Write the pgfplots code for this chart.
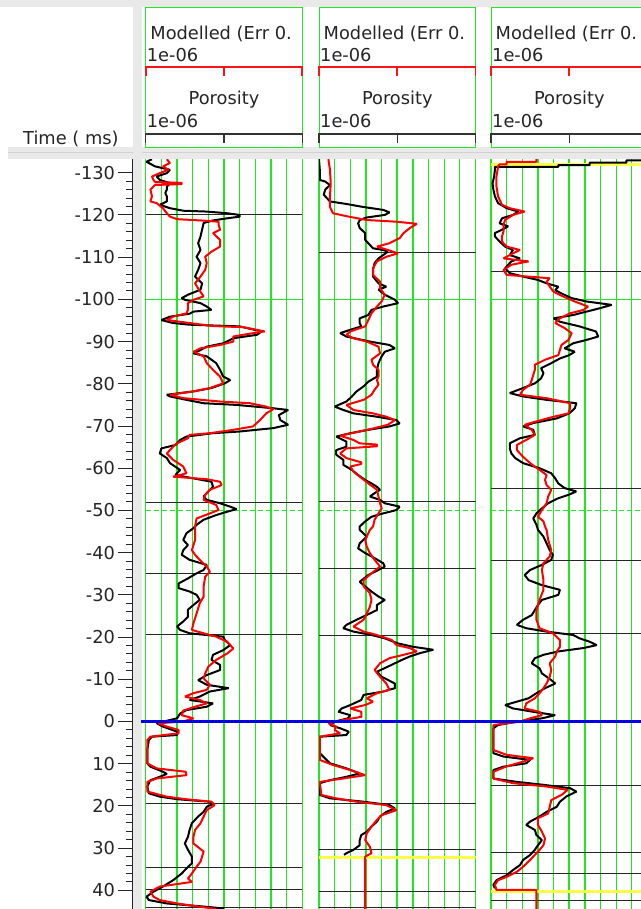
\documentclass[border=0pt]{standalone}
\usepackage{pgfplots}
\pgfplotsset{compat=1.18}
\usepackage{fontspec}
\setmainfont{DejaVu Sans}
\definecolor{gridgreen}{RGB}{30,232,30}
\definecolor{logred}{RGB}{255,0,0}
\definecolor{hdrred}{RGB}{255,20,20}
\definecolor{hdrgray}{RGB}{233,233,233}
\definecolor{txtgray}{RGB}{38,38,38}
\definecolor{ylw}{RGB}{255,255,70}
\definecolor{bluel}{RGB}{0,0,225}
\newcommand{\hfont}{\fontsize{17.8bp}{20bp}\selectfont}

\pgfplotsset{
  track/.style={
    anchor=north west, scale only axis, width=156.6bp, height=750bp,
    xmin=0, xmax=10, ymin=-133.25, ymax=44.42, y dir=reverse,
    axis line style={draw=none}, tick style={draw=none}, major tick length=0pt,
    xtick={0,1,2,3,4,6,7,8,9,10}, ytick={-100},
    xticklabels={}, yticklabels={},
    extra x ticks={5}, extra x tick labels={},
    extra x tick style={grid style={gridgreen, line width=2bp}},
    extra y ticks={-50}, extra y tick labels={},
    extra y tick style={grid style={gridgreen, line width=1bp, dash pattern=on 5bp off 3bp}},
    xmajorgrids, ymajorgrids,
    grid style={gridgreen, line width=1.1bp},
  },
  blk/.style={black, line width=2bp, line join=bevel},
  rd/.style={logred, line width=2bp, line join=bevel},
  hzl/.style={black!85, line width=0.9bp},
  yl/.style={ylw, line width=3.2bp},
}
\newcommand{\hz}[1]{\addplot[hzl] coordinates {(0,#1) (10,#1)};}
\newcommand{\trackhead}[1]{%
  \draw[gridgreen, line width=1bp] (#1,7.7) rectangle ({#1+156.6},147);
  \node[anchor=base west, inner sep=0, text=txtgray, font=\hfont] at ({#1+4.5},39.3) {Modelled (Err 0.};
  \node[anchor=base west, inner sep=0, text=txtgray, font=\hfont] at ({#1+1},61) {1e-06};
  \fill[hdrred] ({#1-0.8},66) rectangle ({#1+157.4},68.2);
  \fill[hdrred] ({#1-0.8},66) rectangle ({#1+1},76);
  \fill[hdrred] ({#1+77.4},66) rectangle ({#1+79.2},76);
  \fill[hdrred] ({#1+155.6},66) rectangle ({#1+157.4},76);
  \node[anchor=base, inner sep=0, text=txtgray, font=\hfont] at ({#1+78.3},104.5) {Porosity};
  \node[anchor=base west, inner sep=0, text=txtgray, font=\hfont] at ({#1+1},127.7) {1e-06};
  \draw[black!80, line width=1.2bp] (#1,143) -- (#1,134) -- ({#1+156.6},134) -- ({#1+156.6},143);
  \draw[black!80, line width=1.2bp] ({#1+78.3},134) -- ({#1+78.3},143);
}

\begin{document}
\begin{tikzpicture}
\fill[white, use as bounding box] (0,0) rectangle (641bp,-909bp);
\clip (0,0) rectangle (641bp,-909bp);
\begin{scope}[x=1bp, y=-1bp]
  \fill[hdrgray] (0,0) rectangle (641,7);
  \fill[hdrgray] (8,147) rectangle (641,159);
  \draw[black!18, line width=0.8bp] (8,152) -- (641,152);
  \fill[hdrgray] (133,7) rectangle (142,909);
  \trackhead{145.7}
  \trackhead{319}
  \trackhead{491}
  \node[anchor=base west, inner sep=0, text=txtgray, font=\hfont] at (23,144) {Time ( ms)};
\end{scope}

% time scale
\begin{axis}[at={(132bp,-159bp)}, anchor=north west, scale only axis, width=10bp, height=750bp,
  xmin=0, xmax=1, ymin=-133.25, ymax=44.42, y dir=reverse,
  axis x line=none, axis y line*=left, xtick=\empty,
  y axis line style={draw=txtgray, line width=1bp},
  ytick={-130,-120,...,40}, minor y tick num=4,
  tick align=outside, major tick length=13.5bp, minor tick length=6bp,
  every tick/.style={txtgray, line width=1bp},
  yticklabel style={font=\hfont, text=txtgray},
  /pgf/number format/assume math mode=true,
  /pgf/number format/1000 sep={}]
\addplot[draw=none] coordinates {(0,0)};
\end{axis}

% track 1
\begin{axis}[track, at={(145.7bp,-159bp)}]
\hz{-120}\hz{-52}\hz{-35}\hz{-20.6}\hz{19.3}\hz{34.5}\hz{39.7}\hz{44.0}
\addplot[blk] coordinates {
(0.4,-133.2) (0.05,-132.6) (0.2,-132.3) (0.6,-131.5) (1.55,-130.7) (1.35,-129.9) (0.7,-129.1) (0.9,-128.3) (1.55,-127.5) (1.35,-126.7) (1.35,-126.0) (1.25,-125.2) (1.35,-124.4) (1.35,-123.2) (0.9,-122.4) (1.55,-121.6) (2.4,-121.0) (3.9,-120.8) (5.2,-120.4) (6.0,-120.0) (6.0,-119.6) (5.2,-119.2) (4.3,-118.7) (3.7,-118.1) (3.6,-116.5) (3.5,-114.9) (3.35,-113.3) (3.5,-111.7) (3.25,-110.1) (3.5,-108.6) (3.35,-107.0) (3.15,-105.4) (3.6,-103.8) (3.5,-102.3) (2.7,-101.1) (2.3,-100.3) (2.5,-99.9) (3.5,-99.1) (3.9,-98.3) (4.2,-97.5) (3.05,-97.1) (2.8,-96.6) (1.55,-95.9) (1.0,-95.1) (1.75,-94.4) (2.8,-94.0) (6.0,-93.6) (7.4,-92.4) (7.1,-91.6) (5.6,-90.8) (4.95,-89.6) (3.9,-88.8) (3.5,-88.0) (3.05,-87.2) (3.9,-86.5) (4.5,-84.9) (4.75,-83.3) (4.95,-81.7) (5.4,-80.9) (5.05,-80.1) (4.2,-79.0) (3.05,-78.2) (1.35,-77.4) (1.55,-77.0) (2.6,-76.2) (3.7,-75.4) (5.8,-75.0) (8.15,-74.2) (9.1,-73.8) (8.5,-72.6) (8.6,-71.4) (9.1,-70.3) (8.15,-69.5) (6.0,-68.7) (4.3,-68.3) (2.6,-67.5) (2.2,-66.7)
(1.9,-65.5) (1.0,-64.7) (0.9,-63.5) (1.35,-62.4) (1.55,-61.2) (2.2,-59.6) (1.9,-58.4) (3.05,-57.6) (4.2,-56.8) (4.3,-55.6) (4.0,-54.5) (3.7,-53.3) (3.9,-52.5) (4.75,-51.7) (5.4,-50.9) (5.8,-50.3) (5.2,-49.7) (4.5,-48.9) (3.7,-47.8) (3.25,-46.6) (3.05,-45.8) (2.6,-44.6) (2.4,-43.0) (2.7,-41.8) (2.4,-40.6) (2.3,-39.5) (2.8,-38.3) (3.9,-37.1) (3.7,-35.9) (3.25,-35.1) (2.7,-33.9) (2.1,-32.7) (2.1,-31.6) (2.8,-30.8) (3.25,-30.0) (3.45,-28.8) (3.05,-27.6) (2.7,-26.5) (2.7,-24.8) (2.4,-23.7) (2.0,-22.5) (2.2,-21.7) (2.8,-20.9) (4.95,-20.1) (5.05,-19.3) (5.4,-18.1) (4.95,-16.9) (4.3,-15.8) (4.2,-14.6) (4.75,-13.4) (4.75,-12.2) (3.9,-11.0) (3.35,-9.8) (3.9,-8.7) (5.3,-7.9) (4.1,-7.1) (3.45,-5.9) (2.8,-5.1) (4.3,-4.3) (3.9,-3.5) (2.6,-2.7) (2.2,-1.9) (2.0,-0.75)
(0.7,0.4) (1.1,1.2) (2.0,2.4) (2.0,3.2) (0.4,3.6) (0.2,4.4) (0.1,6.75) (0.1,9.9) (0.3,10.7) (1.1,11.9) (1.35,12.4) (0.9,13.1) (0.3,13.9) (0.1,15.4) (0.2,17.0) (0.9,17.8) (2.0,18.4) (4.1,19.0) (4.3,19.5) (3.9,20.2) (3.7,21.4) (3.35,22.5) (2.95,24.1) (2.8,25.7) (2.7,27.3) (2.5,28.9) (2.7,30.4) (2.95,32.0) (2.95,33.6) (2.6,34.8) (2.3,36.0) (1.75,37.6) (1.1,39.1) (0.5,40.3) (0.05,41.5) (0.2,42.3) (1.35,43.1) (3.9,43.9) (5.0,44.3)
};
\addplot[rd] coordinates {
(1.35,-133.2) (1.55,-132.3) (1.1,-131.5) (1.45,-130.7) (0.9,-129.9) (0.4,-129.1) (0.5,-128.3) (0.6,-127.8) (2.3,-127.6) (2.3,-127.3) (0.6,-127.1) (0.3,-126.0) (0.4,-124.4) (0.3,-123.2) (0.7,-122.8) (1.1,-121.6) (1.35,-120.4) (1.55,-119.6) (2.0,-119.0) (3.5,-118.7) (4.65,-118.4) (4.65,-117.7) (4.75,-116.5) (4.3,-115.7) (4.75,-114.1) (4.75,-112.5) (4.2,-111.3) (3.8,-110.1) (3.9,-108.6) (3.8,-107.0) (3.5,-105.4) (3.15,-103.8) (3.4,-102.3) (3.7,-100.7) (3.05,-99.9) (2.7,-99.1) (2.7,-97.5) (2.6,-96.7) (1.75,-95.9) (1.35,-95.1) (2.8,-94.4) (4.2,-93.7) (6.25,-93.4) (7.6,-92.4) (6.85,-92.0) (5.6,-91.2) (5.6,-90.0) (4.75,-89.2) (3.5,-88.4) (3.05,-87.6) (3.7,-86.5) (3.9,-84.9) (4.3,-83.3) (4.75,-81.7) (4.95,-80.1) (4.1,-79.0) (3.05,-78.2) (1.55,-77.4) (2.4,-76.6) (4.75,-75.8) (6.65,-75.4) (7.7,-74.6) (8.15,-74.0) (7.7,-73.0) (7.3,-71.4) (6.85,-69.9) (5.6,-69.1) (4.1,-68.3) (2.8,-67.9) (2.7,-67.1) (2.0,-65.9)
(1.75,-65.1) (1.35,-63.5) (1.75,-62.0) (2.4,-60.4) (2.6,-58.8) (1.75,-58.0) (3.9,-57.4) (4.75,-56.8) (4.85,-56.0) (4.1,-54.9) (3.8,-53.7) (3.7,-52.5) (4.5,-51.3) (4.65,-50.1) (4.1,-49.3) (3.25,-48.1) (3.15,-46.2) (3.15,-43.0) (2.95,-40.6) (3.15,-39.5) (3.45,-38.3) (3.9,-36.7) (4.1,-35.5) (3.8,-34.3) (3.7,-32.0) (3.7,-29.6) (3.45,-28.0) (3.25,-25.6) (3.05,-23.3) (2.95,-21.7) (3.5,-21.1) (4.5,-20.1) (5.2,-18.9) (5.6,-17.3) (5.2,-16.1) (4.5,-14.6) (4.0,-13.0) (3.8,-11.4) (3.7,-10.2) (4.1,-8.7) (3.9,-7.5) (3.05,-6.7) (2.5,-5.9) (3.45,-5.1) (3.9,-4.3) (3.15,-3.5) (2.4,-2.6) (2.3,-1.5) (3.05,-0.75) (2.4,0.0)
(0.8,0.43) (1.35,1.2) (2.1,2.0) (2.1,2.8) (0.3,3.6) (0.1,4.4) (0.1,9.9) (0.7,11.1) (2.55,11.9) (2.6,12.7) (0.7,13.5) (0.1,14.3) (0.1,16.6) (1.35,17.8) (2.55,18.4) (4.2,19.0) (4.4,19.8) (3.9,21.0) (3.7,22.5) (3.5,24.1) (3.15,25.7) (3.05,27.3) (3.05,28.9) (3.7,30.8) (3.6,32.0) (3.5,33.2) (3.25,34.4) (2.95,36.0) (2.7,37.2) (2.95,38.0) (0.9,39.1) (0.3,40.3) (0.5,41.5) (0.9,42.3) (2.0,43.1) (3.5,43.9) (4.5,44.4)
};
\end{axis}

% track 2
\begin{axis}[track, at={(319bp,-159bp)}]
\hz{-111}\hz{-52.2}\hz{-36.3}\hz{-20.5}\hz{19.3}\hz{30.2}\hz{40.3}\hz{44.0}
\addplot[yl] coordinates {(0,32.2) (10,32.2)};
\addplot[blk] coordinates {
(0.0,-133.2) (0.05,-130.7) (0.05,-128.3) (0.4,-127.9) (0.7,-127.1) (0.4,-126.0) (0.3,-124.8) (0.5,-124.0) (0.7,-123.2) (1.75,-122.6) (2.8,-121.9) (4.1,-121.2) (4.5,-120.6) (4.2,-120.0) (3.05,-119.4) (2.6,-118.8) (2.5,-118.0) (2.6,-116.9) (2.95,-115.7) (2.95,-114.1) (3.25,-112.9) (3.45,-112.1) (4.1,-111.7) (4.4,-111.3) (4.1,-110.5) (3.8,-109.7) (3.55,-108.6) (3.45,-107.0) (3.45,-105.4) (3.8,-103.8) (4.3,-103.0) (3.8,-102.3) (4.2,-101.1) (4.85,-99.9) (5.05,-99.1) (4.1,-98.3) (3.35,-97.5) (3.15,-96.3) (2.6,-95.5) (2.6,-94.4) (2.7,-93.6) (2.0,-92.8) (1.35,-92.0) (1.75,-91.2) (3.25,-90.0) (4.5,-89.2) (4.85,-88.4) (4.2,-87.6) (4.0,-86.5) (3.8,-84.9) (3.7,-83.3) (3.7,-81.7) (3.15,-80.5) (2.85,-79.4) (2.4,-78.2) (2.1,-77.0) (1.75,-75.8) (1.0,-74.6) (1.55,-73.8) (2.2,-73.0) (3.7,-72.2) (4.95,-71.4) (5.15,-70.6) (4.5,-69.9) (3.15,-69.1) (2.0,-68.3) (1.1,-67.5) (1.75,-66.3) (1.75,-65.1) (1.1,-64.3) (1.1,-63.2) (1.55,-62.0) (1.55,-60.8) (2.1,-59.6) (2.5,-58.4) (2.95,-57.2) (3.35,-56.4) (3.7,-55.6) (3.9,-54.9) (3.55,-54.1) (3.25,-53.3) (3.9,-52.5) (4.2,-51.7) (5.15,-50.9) (4.95,-50.1) (4.1,-49.3) (3.35,-48.5) (2.95,-47.4) (2.6,-46.2)
(2.6,-45.4) (3.05,-43.8) (2.6,-42.2) (2.5,-41.0) (2.95,-39.9) (3.55,-38.7) (4.1,-37.5) (4.2,-36.7) (3.8,-35.9) (3.15,-34.7) (2.6,-33.1) (2.95,-32.0) (3.35,-30.8) (3.8,-29.6) (4.2,-28.8) (3.7,-27.6) (3.7,-26.4) (3.25,-25.6) (2.4,-24.1) (1.75,-22.9) (1.55,-22.1) (2.2,-21.3) (3.35,-20.5) (4.2,-19.7) (5.05,-18.5) (6.0,-17.7) (7.3,-17.0) (6.45,-16.2) (5.8,-15.4) (5.3,-14.6) (4.4,-13.0) (3.7,-11.8) (4.0,-10.6) (4.85,-9.0) (4.85,-7.9) (4.1,-7.1) (2.85,-6.3) (2.7,-5.1) (2.0,-3.9) (1.45,-3.1) (1.25,-2.3) (2.0,-1.5) (1.85,-0.75) (1.0,0.04) (0.7,0.83) (1.35,1.6) (1.9,2.4) (1.75,3.2) (0.05,3.6) (0.05,7.5) (0.7,9.9) (1.75,11.1) (2.6,12.3) (1.75,13.1) (0.7,13.9) (0.05,14.6) (0.05,17.4) (0.7,18.2) (2.85,19.0) (4.5,19.8) (4.85,20.6) (4.3,21.4) (3.9,22.5) (3.7,23.7) (3.35,24.9) (3.05,26.1) (2.7,26.9) (2.6,28.1) (2.6,29.3) (2.2,30.4) (1.75,31.2) (1.6,31.6)
};
\addplot[rd] coordinates {
(0.6,-133.2) (0.7,-130.7) (0.75,-127.5) (0.7,-124.4) (0.7,-121.9) (0.9,-120.4) (1.9,-119.6) (3.05,-118.8) (4.95,-118.4) (6.25,-117.9) (5.8,-116.9) (5.4,-115.7) (5.15,-114.5) (4.5,-113.3) (3.7,-112.5) (4.4,-111.7) (5.05,-110.9) (4.3,-110.1) (3.7,-109.0) (3.45,-107.4) (3.45,-105.8) (3.9,-104.2) (3.9,-102.6) (4.2,-101.1) (4.0,-99.5) (3.7,-98.3) (3.35,-96.7) (3.15,-95.1) (2.95,-93.6) (2.0,-92.4) (1.75,-91.6) (2.2,-90.8) (3.05,-90.0) (3.8,-88.8) (3.9,-87.2) (3.35,-85.7) (3.45,-84.5) (3.8,-83.3) (3.8,-81.7) (3.7,-80.9) (3.8,-79.8) (3.55,-78.6) (3.35,-77.4) (2.85,-76.2) (1.75,-75.0) (2.2,-73.8) (3.45,-73.0) (4.3,-72.2) (4.85,-71.4) (4.4,-70.3) (3.55,-69.5) (2.6,-68.7) (1.35,-67.7) (2.2,-66.7) (2.6,-65.9) (3.7,-65.6) (3.7,-65.2) (1.75,-64.7) (1.35,-63.5) (1.75,-62.4) (2.7,-61.4) (2.7,-61.0) (2.0,-60.4) (2.2,-59.2) (2.6,-58.0) (3.15,-56.4) (3.7,-54.9) (3.8,-53.3) (3.9,-51.7) (4.0,-50.5) (3.8,-49.3) (3.55,-47.8) (3.45,-46.2)
(3.25,-45.4) (2.95,-43.0) (3.05,-41.4) (3.25,-39.9) (3.55,-38.3) (3.9,-36.7) (3.35,-35.1) (2.85,-33.5) (2.85,-32.0) (3.25,-30.4) (3.35,-28.8) (3.25,-27.2) (3.05,-25.6) (2.85,-24.1) (2.2,-22.5) (2.85,-21.3) (3.7,-20.5) (4.65,-19.3) (4.95,-18.1) (5.8,-17.4) (6.25,-16.6) (5.4,-15.8) (4.5,-15.0) (3.9,-13.8) (3.55,-12.2) (3.9,-10.6) (4.3,-9.0) (4.5,-7.5) (3.7,-6.7) (3.05,-5.5) (3.45,-4.7) (2.95,-3.9) (2.0,-3.1) (2.7,-2.3) (2.7,-1.1) (1.55,-0.36) (0.6,0.43) (1.1,1.2) (1.0,2.0) (1.35,2.8) (0.05,3.6) (0.05,9.1) (0.9,10.3) (2.0,11.5) (2.95,12.7) (1.55,13.5) (0.05,14.3) (0.15,17.4) (1.1,18.2) (2.4,19.0) (4.3,19.8) (4.95,21.0) (4.0,22.2) (3.7,23.3) (3.35,24.9) (3.05,26.5) (2.95,28.1) (3.25,29.7) (3.35,31.2) (2.95,32.0) (2.95,44.5)
};
\end{axis}

% track 3
\begin{axis}[track, at={(491bp,-159bp)}]
\hz{-106.7}\hz{-55.1}\hz{-38.2}\hz{-20.8}\hz{15.2}\hz{31.0}\hz{36.0}\hz{42.4}
\addplot[yl] coordinates {(0,40.3) (10,40.3)};
\addplot[yl] coordinates {(0,-131.9) (10,-131.9)};
\addplot[blk] coordinates {
(10.5,-132.9) (8.65,-132.9) (8.65,-132.4) (6.3,-132.4) (6.3,-131.8) (4.3,-131.8) (4.3,-131.4) (0.25,-131.4) (0.25,-130.7) (0.2,-129.1) (0.1,-127.5) (0.15,-126.0) (0.25,-124.4) (0.45,-122.8) (1.0,-121.6) (1.75,-120.8) (1.4,-120.0) (0.7,-119.2) (0.55,-118.0) (1.1,-117.3) (0.7,-116.5) (0.25,-115.7) (0.25,-114.9) (0.55,-113.7) (0.9,-112.5) (1.4,-111.7) (1.2,-110.5) (1.85,-109.7) (1.3,-109.0) (1.1,-108.2) (0.9,-107.4) (1.2,-106.2) (2.05,-105.4) (3.0,-104.6) (3.55,-103.8) (4.3,-103.0) (4.1,-102.2) (4.5,-101.4) (5.15,-100.3) (6.1,-99.5) (7.7,-98.7) (6.95,-97.9) (6.1,-97.1) (5.25,-96.3) (4.0,-95.5) (4.4,-94.7) (5.65,-93.6) (6.7,-92.4) (6.85,-91.2) (6.1,-90.4) (5.25,-89.6) (4.7,-88.4) (5.35,-87.6) (5.0,-86.8) (4.4,-86.0) (3.85,-84.9) (3.2,-83.7) (3.35,-82.5) (3.2,-81.3) (2.8,-80.1) (2.05,-79.0) (1.2,-77.8) (2.05,-77.0) (3.55,-76.2) (5.45,-75.4) (5.35,-74.2) (5.0,-73.0) (4.2,-71.8) (2.7,-70.7) (2.05,-69.9) (2.7,-69.1) (2.8,-67.9) (1.85,-67.1) (1.2,-65.9) (1.2,-64.7) (1.3,-63.5) (1.55,-62.4) (2.05,-61.2) (3.1,-60.0) (3.85,-58.8) (4.1,-57.6) (4.3,-56.4) (4.7,-55.3) (5.45,-54.5) (4.95,-53.7) (4.3,-52.9) (3.65,-51.7) (3.25,-50.5) (2.9,-49.3) (2.7,-48.1) (2.9,-46.6)
(3.0,-45.4) (3.35,-43.8) (3.55,-42.2) (3.75,-40.6) (3.95,-39.5) (3.85,-38.3) (3.25,-37.1) (2.5,-35.9) (2.15,-34.7) (2.4,-33.5) (3.25,-32.3) (4.4,-31.2) (4.3,-30.0) (3.25,-28.8) (3.0,-27.6) (2.8,-26.4) (2.6,-25.2) (2.05,-24.1) (1.65,-22.9) (2.25,-22.1) (3.55,-21.3) (5.25,-20.5) (5.65,-19.7) (6.3,-18.9) (6.75,-18.1) (5.9,-17.4) (4.3,-16.6) (3.35,-15.8) (2.8,-15.0) (2.6,-13.8) (3.1,-12.6) (3.25,-11.4) (3.55,-10.6) (3.85,-9.8) (4.1,-9.0) (3.45,-7.9) (2.9,-6.7) (2.4,-5.5) (1.65,-4.7) (0.9,-3.9) (1.4,-3.1) (2.7,-2.3) (4.1,-1.5) (3.25,-0.75) (1.65,0.04) (0.45,0.83) (0.15,1.6) (0.15,7.5) (0.8,8.3) (2.5,9.1) (2.25,9.9) (0.8,10.7) (0.15,11.5) (0.15,13.5) (1.65,14.3) (3.35,15.0) (5.05,15.8) (5.45,16.6) (4.8,17.8) (4.4,19.0) (4.2,20.2) (3.55,21.4) (3.1,22.5) (2.5,23.7) (2.25,24.5) (2.8,25.7) (2.9,26.9) (3.25,28.1) (3.0,29.3) (2.8,30.4) (2.5,31.6) (2.05,32.8) (1.85,34.0) (1.4,35.2) (1.0,36.4) (0.35,37.6) (0.15,38.7) (0.25,39.5)
};
\addplot[rd] coordinates {
(2.9,-133.3) (2.9,-132.6) (1.0,-132.6) (1.0,-132.0) (0.55,-132.0) (0.45,-131.5) (0.35,-129.1) (0.35,-126.7) (0.45,-124.4) (0.7,-122.4) (1.2,-121.6) (2.15,-120.8) (1.4,-120.0) (0.9,-118.8) (0.8,-117.7) (0.8,-116.1) (0.7,-114.9) (0.7,-113.7) (1.0,-112.5) (1.85,-111.7) (1.4,-110.9) (0.8,-109.7) (2.4,-109.0) (1.3,-108.2) (0.8,-107.0) (1.0,-105.8) (3.75,-105.0) (3.55,-104.2) (3.75,-103.0) (4.0,-101.8) (4.6,-100.7) (5.35,-99.5) (6.2,-98.3) (5.9,-97.5) (5.05,-96.7) (4.4,-95.5) (4.1,-94.4) (4.7,-93.2) (5.15,-92.0) (4.95,-90.4) (4.5,-89.2) (4.4,-88.0) (4.3,-86.8) (3.45,-85.7) (2.8,-84.5) (2.8,-83.3) (2.7,-82.1) (2.6,-80.9) (2.5,-79.8) (2.05,-78.6) (1.85,-77.4) (3.55,-76.6) (5.05,-75.4) (5.05,-74.2) (4.95,-73.0) (4.0,-72.2) (2.9,-71.1) (2.15,-70.3) (2.6,-69.1) (2.8,-67.9) (2.25,-66.7) (1.65,-65.5) (1.65,-64.3) (2.05,-62.7) (2.5,-61.2) (3.1,-59.6) (3.55,-58.4) (3.45,-57.2) (3.55,-56.0) (3.85,-54.9) (3.65,-53.3) (3.55,-51.7) (3.25,-50.1) (3.0,-48.5) (3.35,-47.4) (3.45,-46.2)
(3.55,-45.4) (3.65,-43.0) (3.85,-40.6) (3.75,-39.1) (3.35,-37.5) (3.25,-35.9) (3.35,-33.5) (3.35,-31.2) (3.1,-28.8) (2.9,-26.4) (2.9,-24.1) (3.1,-22.1) (3.95,-20.9) (4.4,-19.3) (4.4,-17.7) (4.2,-16.6) (4.1,-15.4) (3.75,-13.8) (3.85,-12.2) (3.75,-10.6) (3.55,-9.0) (3.35,-7.9) (3.1,-6.7) (2.8,-5.5) (2.25,-4.3) (2.15,-3.1) (3.1,-2.3) (3.25,-1.5) (2.5,-0.75) (1.85,0.04) (0.15,0.83) (0.15,6.75) (1.0,7.9) (2.7,8.7) (2.05,9.5) (0.95,10.7) (0.15,11.9) (0.15,13.5) (1.4,14.6) (3.55,15.4) (4.9,16.2) (4.5,17.4) (3.85,18.6) (3.75,20.2) (3.65,21.8) (3.0,22.9) (3.0,24.5) (3.25,26.1) (3.45,27.7) (3.35,29.3) (3.1,30.4) (2.8,31.6) (2.5,32.8) (2.05,34.4) (1.65,35.6) (1.0,36.8) (0.45,37.6) (0.25,38.7) (0.35,39.9) (2.9,39.9) (2.9,44.5)
};
\end{axis}

% zero line across all tracks
\begin{axis}[at={(141bp,-159bp)}, anchor=north west, scale only axis, width=500bp, height=750bp,
  xmin=0, xmax=1, ymin=-133.25, ymax=44.42, y dir=reverse, hide axis]
\addplot[bluel, line width=2.2bp] coordinates {(0,0) (1,0)};
\end{axis}
\end{tikzpicture}
\end{document}
